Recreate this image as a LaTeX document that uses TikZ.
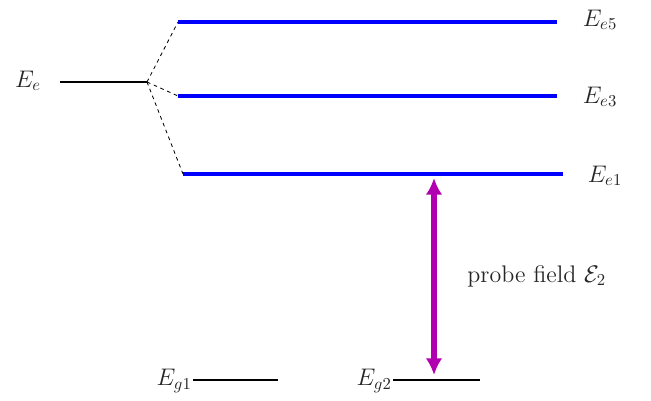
\documentclass[tikz,border=0pt]{standalone}
\usetikzlibrary{arrows.meta}
\definecolor{probepurple}{RGB}{176,0,176}
\begin{document}
\begin{tikzpicture}[x=0.6pt,y=-0.6pt,
  level/.style={line width=1.2pt,black},
  sublevel/.style={line width=2.4pt,blue},
  split/.style={line width=0.5pt,dash pattern=on 2.2pt off 2.2pt},
  probe/.style={line width=3.6pt,probepurple,{Latex[length=10pt,width=10pt]}-{Latex[length=10pt,width=10pt]}},
  lab/.style={inner sep=0pt,font=\fontsize{14.4}{17}\selectfont,text=black!85}]
\useasboundingbox (0,0) rectangle (651,401);
% unsplit excited level
\coordinate (eL) at (60,82);
\coordinate (eR) at (147,82);
\draw[level] (eL) -- (eR);
\node[lab] (labe) at (28,81) {$E_e$};
% split levels
\coordinate (e5L) at (178,22);  \coordinate (e5R) at (557,22);
\coordinate (e3L) at (178,96);  \coordinate (e3R) at (557,96);
\coordinate (e1L) at (183,174); \coordinate (e1R) at (563,174);
\draw[sublevel] (e5L) -- (e5R);
\draw[sublevel] (e3L) -- (e3R);
\draw[sublevel] (e1L) -- (e1R);
\draw[split] (eR) -- (e5L);
\draw[split] (eR) -- (e3L);
\draw[split] (eR) -- (e1L);
\node[lab] (lab5) at (600,20) {$E_{e5}$};
\node[lab] (lab3) at (600,97) {$E_{e3}$};
\node[lab] (lab1) at (605,176) {$E_{e1}$};
% ground levels
\coordinate (g1L) at (193,380); \coordinate (g1R) at (278,380);
\coordinate (g2L) at (393,380); \coordinate (g2R) at (480,380);
\draw[level] (g1L) -- (g1R);
\draw[level] (g2L) -- (g2R);
\node[lab,anchor=east] (labg1) at (192,381) {$E_{g1}$};
\node[lab,anchor=east] (labg2) at (392,381) {$E_{g2}$};
% probe
\coordinate (pTop) at (434,178);
\coordinate (pBot) at (434,375);
\draw[probe] (pTop) -- (pBot);
\node[lab,anchor=west] (plab) at (467,276) {probe field $\mathcal{E}_2$};
\end{tikzpicture}
\end{document}
